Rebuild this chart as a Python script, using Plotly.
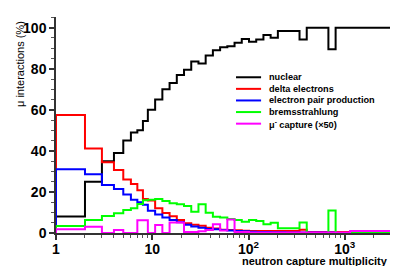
import plotly.graph_objects as go

# bin edges (neutron capture multiplicity)
edges = [1, 2, 3, 4, 5, 6, 7, 8, 9,
         10.715, 12.735, 15.136, 17.989, 21.380, 25.410, 30.200, 35.892, 42.658,
         50.699, 60.256, 71.614, 85.114, 101.16, 120.23, 142.89, 169.82, 201.84,
         239.88, 285.10, 338.84, 402.71, 478.63, 568.85, 676.08, 803.53, 955.0,
         1135.0, 1349.0, 1603.3, 1905.5, 2264.6, 2691.5, 3198.9]

nuclear = [8, 25, 35, 39, 45, 49, 50, 54.5, 60,
           65, 70, 73, 77, 79.5, 83.5, 82.5, 86.5, 89, 90.5,
           91, 92.7, 94.5, 93.2, 94.3, 96.4, 95.1, 98.4, 98.4, 98.4,
           94.3, 100, 100, 100, 89.5, 100, 100, 100, 100, 100, 100, 100, 100]
delta = [57.5, 41.2, 34.5, 30.7, 26.1, 23.9, 20.8, 16.5, 15.8,
         12, 9.7, 8.2, 6.3, 4.7, 4, 3.5, 2.6, 2.2, 1.6,
         1.5, 1.3, 1.1, 1, 1, 1, 1, 1, 1, 1,
         1.6, 0.5, 0.5, 0.5, 0.5, 0.5, 0.5, 0.3, 0.3, 0.3, 0.3, 0.3, 0.3]
pair = [31, 28.6, 23.4, 21.4, 18.7, 16.2, 15, 13.7, 10.8,
        9, 7.5, 6.3, 5.2, 4, 3.2, 2.6, 2, 1.8, 1.5,
        1.2, 1, 0.8, 0.6, 0.5, 0.5, 0.4, 0.4, 0.3, 0.3,
        0.3, 0.3, 0.2, 0.2, 0.2, 0, 0, 0, 0, 0, 0, 0, 0]
brems = [3.4, 6.3, 8.3, 9.6, 11.2, 12, 14.1, 16, 16.2,
         16.6, 15.6, 14.5, 14, 13.2, 10.4, 14, 9.9, 7.9, 7.5,
         6.8, 6.3, 5.5, 6.3, 5.8, 4.3, 5, 2.3, 2.3, 2.3,
         5.1, 0, 0, 0, 11, 0, 0, 0, 0, 0, 0, 0, 0]
capture = [1.8, 3.1, 0, 1.5, 0, 0, 6.2, 6.2, 0,
           3.9, 0, 5.1, 5.1, 0.5, 0.5, 0.8, 1.5, 4.3, 1.2,
           6.6, 0.5, 0.5, 0.3, 0.3, 0.3, 0.3, 0.3, 0.3, 0.3,
           0.3, 0.3, 0.3, 0.3, 0.3, 0.3, 0.3, 1, 1, 1, 1, 1, 1]

names = ["nuclear", "delta electrons", "electron pair production",
         "bremsstrahlung", "μ<sup>-</sup> capture (×50)"]
colors = ["#000000", "#ff0000", "#0000ff", "#00ff00", "#ff00ff"]
series = [nuclear, delta, pair, brems, capture]

x_ticks = [1, 10, 100, 1000]
x_ticktext = ["1", "10", "10<sup>2</sup>", "10<sup>3</sup>"]
x_minor = [m * 10 ** d for d in range(4) for m in range(2, 10)]
y_ticks = [0, 20, 40, 60, 80, 100]

FONT = "Liberation Sans, Arial, Helvetica, sans-serif"

fig = go.Figure()
for name, col, vals in zip(names, colors, series):
    xs = [edges[0]] + edges
    ys = [0] + vals + [vals[-1]]
    fig.add_trace(go.Scatter(x=xs, y=ys, mode="lines", name=name,
                             line=dict(color=col, width=2, shape="hv"),
                             showlegend=False))

# manual legend
lx0, lx1, tx = 0.539, 0.614, 0.631
ly0, dy = 0.721, 0.0537
for i, (name, col) in enumerate(zip(names, colors)):
    yy = ly0 - i * dy
    fig.add_shape(type="line", xref="paper", yref="paper",
                  x0=lx0, x1=lx1, y0=yy, y1=yy,
                  line=dict(color=col, width=2))
    fig.add_annotation(xref="paper", yref="paper", x=tx, y=yy,
                       text=name, showarrow=False, xanchor="left",
                       yanchor="middle",
                       font=dict(family=FONT, size=9.2, color="#000",
                                 weight="bold"))

fig.add_annotation(xref="paper", yref="paper", x=1.0, y=0, yshift=-28,
                   text="neutron capture multiplicity", showarrow=False,
                   xanchor="right", yanchor="middle",
                   font=dict(family=FONT, size=11, color="#000", weight="bold"))
fig.add_annotation(xref="paper", yref="paper", x=0, xshift=-36, y=1.0,
                   yshift=-2,
                   text="μ interactions (%)", showarrow=False, textangle=-90,
                   xanchor="center", yanchor="top",
                   font=dict(family=FONT, size=11, color="#000"))

fig.update_layout(
    width=417, height=266,
    margin=dict(l=56, r=27, t=17, b=33),
    paper_bgcolor="white", plot_bgcolor="white",
    font=dict(family=FONT, color="#000"),
    xaxis=dict(type="log", range=[0, 3.47], showgrid=False, zeroline=False,
               automargin=False, ticklabelstandoff=-3,
               showline=True, linecolor="#333", linewidth=1.5,
               ticks="outside", ticklen=5, tickwidth=1.5, tickcolor="#333",
               tickmode="array", tickvals=x_ticks, ticktext=x_ticktext,
               tickfont=dict(family=FONT, size=14, color="#000", weight="bold"),
               minor=dict(tickmode="array", tickvals=x_minor, ticks="outside",
                          ticklen=3, tickwidth=1, tickcolor="#555",
                          showgrid=False)),
    yaxis=dict(range=[0, 105.2], showgrid=False, zeroline=False,
               automargin=False,
               showline=True, linecolor="#333", linewidth=1.5,
               ticks="outside", ticklen=5, tickwidth=1.5, tickcolor="#333",
               tickmode="array", tickvals=y_ticks,
               tickfont=dict(family=FONT, size=14, color="#000", weight="bold"),
               minor=dict(dtick=5, ticks="outside", ticklen=3, tickwidth=1,
                          tickcolor="#555", showgrid=False)),
)

fig.write_html("out.html", config={"displayModeBar": False},
               post_script="document.body.style.margin='0';")
